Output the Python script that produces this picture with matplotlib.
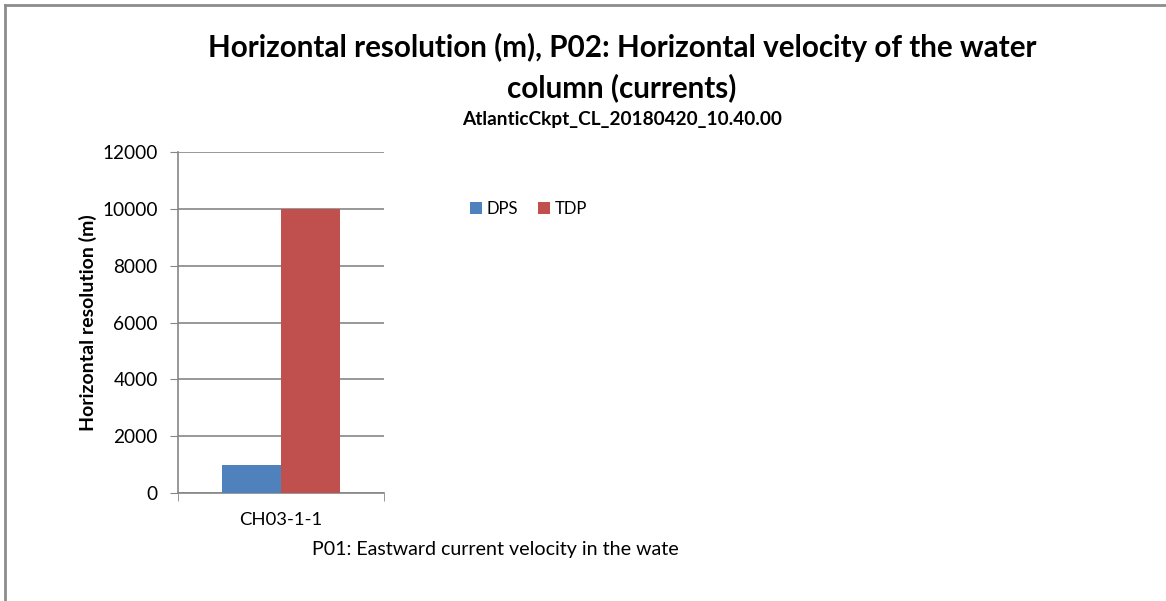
import matplotlib.pyplot as plt
import numpy as np
from matplotlib.lines import Line2D

plt.rcParams['font.family'] = ['Lato', 'DejaVu Sans']

categorias = ['CH03-1-1']
series = ['DPS', 'TDP']
valores_dps = [1000]
valores_tdp = [10000]
colores = ['#4F81BD', '#C0504D']
gris = '#868686'

fig = plt.figure(figsize=(11.66, 6.01), dpi=100)

# marco exterior (solo arriba e izquierda visibles)
fig.add_artist(Line2D([5 / 1166, 5 / 1166], [0, 1 - 5 / 601], transform=fig.transFigure, color='#8c8c8c', lw=2))
fig.add_artist(Line2D([5 / 1166, 1], [1 - 5 / 601, 1 - 5 / 601], transform=fig.transFigure, color='#8c8c8c', lw=2))

ax = fig.add_axes([178 / 1166, 1 - 493 / 601, 206 / 1166, 341 / 601])

x = np.arange(len(categorias))
ancho = 0.286
ax.bar(x - ancho / 2, valores_dps, ancho, color=colores[0], label=series[0], zorder=3)
ax.bar(x + ancho / 2, valores_tdp, ancho, color=colores[1], label=series[1], zorder=3)

ax.set_xlim(-0.5, 0.5)
ax.set_ylim(0, 12000)
ax.set_yticks(np.arange(0, 12001, 2000))
ax.set_xticks([-0.5, 0.5], minor=True)
ax.set_xticks(x)
ax.set_xticklabels(categorias, fontsize=13.3)
ax.tick_params(axis='x', which='major', length=0, pad=14)
ax.tick_params(axis='x', which='minor', length=5.5, color=gris, direction='out')
ax.tick_params(axis='y', length=5.5, color=gris, labelsize=13.7, pad=9)
ax.yaxis.grid(True, color=gris, lw=1.2, zorder=0)

for lado in ['top', 'right']:
    ax.spines[lado].set_visible(False)
for lado in ['left', 'bottom']:
    ax.spines[lado].set_color(gris)
    ax.spines[lado].set_linewidth(1.2)

ax.set_ylabel('Horizontal resolution (m)', fontsize=14, fontweight='bold', labelpad=4)

fig.text(622 / 1166, 1 - 57 / 601, 'Horizontal resolution (m), P02: Horizontal velocity of the water',
         ha='center', va='baseline', fontsize=21.3, fontweight='bold')
fig.text(622 / 1166, 1 - 97 / 601, 'column (currents)',
         ha='center', va='baseline', fontsize=21.3, fontweight='bold')
fig.text(622 / 1166, 1 - 125 / 601, 'AtlanticCkpt_CL_20180420_10.40.00',
         ha='center', va='baseline', fontsize=13.7, fontweight='bold')
fig.text(312 / 1166, 1 - 549 / 601, 'P01: Eastward current velocity in the wate',
         ha='left', va='center', fontsize=14.1)

fig.legend(loc='center left', bbox_to_anchor=(455 / 1166, 1 - 209 / 601), ncol=2, frameon=False,
           fontsize=12, handlelength=0.7, handleheight=0.7, handletextpad=0.3, columnspacing=1.2)

fig.savefig('out.png', dpi=100)
